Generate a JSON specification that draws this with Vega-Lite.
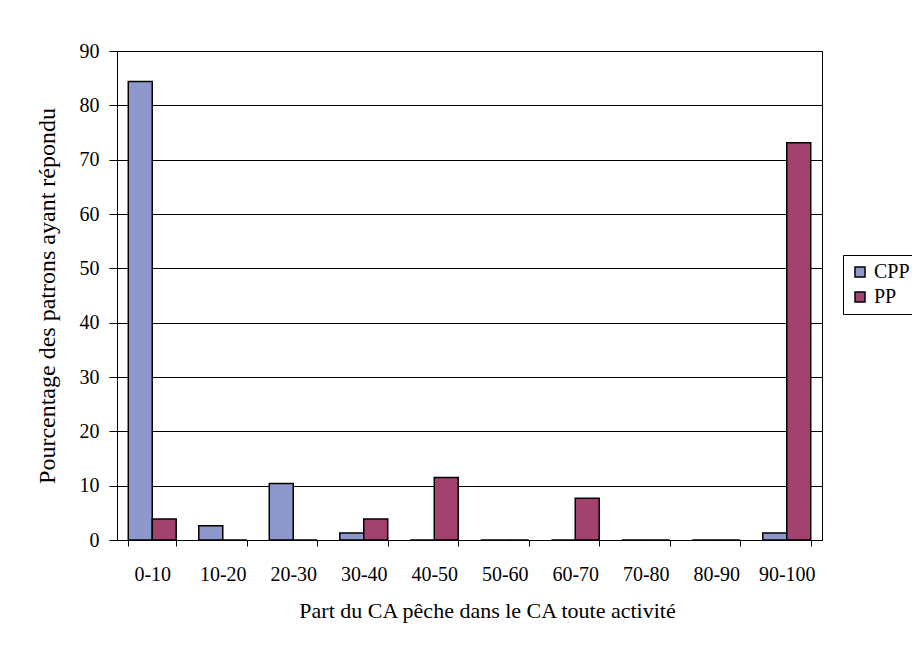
{
  "$schema": "https://vega.github.io/schema/vega-lite/v6.json",
  "width": 705,
  "height": 489,
  "autosize": {"type": "none"},
  "padding": {"left": 117, "top": 51, "right": 90, "bottom": 110},
  "background": "white",
  "data": {"values": [
    {"tranche": "0-10", "groupe": "CPP", "pct": 84.4},
    {"tranche": "0-10", "groupe": "PP", "pct": 3.85},
    {"tranche": "10-20", "groupe": "CPP", "pct": 2.6},
    {"tranche": "10-20", "groupe": "PP", "pct": 0},
    {"tranche": "20-30", "groupe": "CPP", "pct": 10.4},
    {"tranche": "20-30", "groupe": "PP", "pct": 0},
    {"tranche": "30-40", "groupe": "CPP", "pct": 1.3},
    {"tranche": "30-40", "groupe": "PP", "pct": 3.85},
    {"tranche": "40-50", "groupe": "CPP", "pct": 0},
    {"tranche": "40-50", "groupe": "PP", "pct": 11.5},
    {"tranche": "50-60", "groupe": "CPP", "pct": 0},
    {"tranche": "50-60", "groupe": "PP", "pct": 0},
    {"tranche": "60-70", "groupe": "CPP", "pct": 0},
    {"tranche": "60-70", "groupe": "PP", "pct": 7.7},
    {"tranche": "70-80", "groupe": "CPP", "pct": 0},
    {"tranche": "70-80", "groupe": "PP", "pct": 0},
    {"tranche": "80-90", "groupe": "CPP", "pct": 0},
    {"tranche": "80-90", "groupe": "PP", "pct": 0},
    {"tranche": "90-100", "groupe": "CPP", "pct": 1.3},
    {"tranche": "90-100", "groupe": "PP", "pct": 73.1}
  ]},
  "mark": {"type": "bar", "stroke": "black", "strokeWidth": 1.5},
  "encoding": {
    "x": {
      "field": "tranche", "type": "nominal", "sort": null,
      "scale": {"paddingInner": 0.32, "paddingOuter": 0.16},
      "axis": {
        "title": "Part du CA pêche dans le CA toute activité",
        "labelAngle": 0, "tickBand": "extent", "grid": false,
        "domainColor": "black", "tickColor": "black", "tickSize": 6,
        "labelFont": "Liberation Serif", "labelFontSize": 20, "labelColor": "black",
        "labelPadding": 18,
        "titleFont": "Liberation Serif", "titleFontSize": 22, "titleFontWeight": "normal", "titleColor": "black",
        "titlePadding": 16, "titleX": 370
      }
    },
    "xOffset": {"field": "groupe", "type": "nominal", "scale": {"paddingInner": 0, "paddingOuter": 0}},
    "y": {
      "field": "pct", "type": "quantitative",
      "scale": {"domain": [0, 90], "nice": false},
      "axis": {
        "title": "Pourcentage des patrons ayant répondu",
        "values": [0, 10, 20, 30, 40, 50, 60, 70, 80, 90],
        "grid": true, "gridColor": "black", "gridOpacity": 1, "gridWidth": 1,
        "domainColor": "black", "tickColor": "black", "tickSize": 8,
        "labelFont": "Liberation Serif", "labelFontSize": 20, "labelColor": "black",
        "labelPadding": 10,
        "titleFont": "Liberation Serif", "titleFontSize": 24, "titleFontWeight": "normal", "titleColor": "black",
        "titlePadding": 20
      }
    },
    "color": {
      "field": "groupe", "type": "nominal",
      "scale": {"domain": ["CPP", "PP"], "range": ["#8E98CB", "#A2426F"]},
      "legend": {
        "title": null, "orient": "none", "legendX": 726, "legendY": 204,
        "strokeColor": "black", "padding": 7,
        "symbolType": "square", "symbolSize": 100, "symbolStrokeColor": "black", "symbolStrokeWidth": 1.5,
        "labelFont": "Liberation Serif", "labelFontSize": 20, "labelColor": "black",
        "rowPadding": 5, "labelOffset": 4
      }
    }
  },
  "config": {"view": {"stroke": "black", "strokeWidth": 1}}
}
